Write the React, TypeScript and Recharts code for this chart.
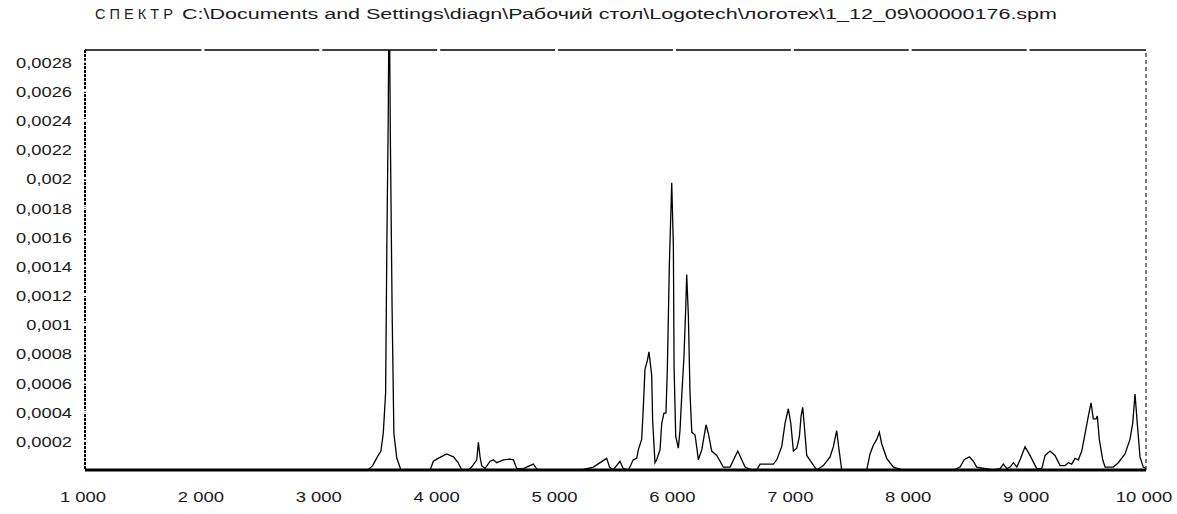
import React from 'react'
import { LineChart, Line, XAxis, YAxis, ReferenceLine } from 'recharts'

const titleWord = 'С П Е К Т Р'
const titlePath =
  'C:\\Documents and Settings\\diagn\\Рабочий стол\\Logotech\\логотех\\1_12_09\\00000176.spm'

// wavenumber points and the amplitude read at each one
const freq = [
  1000, 3400, 3440, 3480, 3510, 3530, 3550, 3560, 3572, 3580, 3590, 3605, 3620, 3645, 3680,
  3927, 3955, 3995, 4068, 4125, 4165, 4196, 4251, 4280, 4323, 4337, 4351, 4365, 4393, 4436,
  4464, 4492, 4548, 4605, 4634, 4662, 4718, 4803, 4830, 4860, 5213, 5312, 5425, 5450, 5480,
  5538, 5565, 5609, 5651, 5680, 5694, 5722, 5736, 5750, 5770, 5784, 5807, 5815, 5835, 5849,
  5878, 5892, 5911, 5928, 5940, 5957, 5977, 5991, 5997, 6011, 6033, 6047, 6062, 6081, 6096,
  6104, 6118, 6132, 6147, 6175, 6203, 6232, 6268, 6288, 6316, 6359, 6415, 6472, 6537, 6599,
  6656, 6698, 6726, 6839, 6868, 6910, 6938, 6966, 6987, 7009, 7038, 7060, 7074, 7088, 7102,
  7122, 7164, 7207, 7263, 7320, 7348, 7376, 7396, 7419, 7631, 7659, 7687, 7716, 7738, 7758,
  7801, 7857, 7941, 8366, 8423, 8457, 8502, 8535, 8564, 8705, 8762, 8790, 8819, 8847, 8875,
  8904, 8932, 8974, 9016, 9073, 9116, 9144, 9186, 9228, 9271, 9313, 9341, 9370, 9398, 9426,
  9455, 9483, 9511, 9534, 9553, 9576, 9587, 9604, 9633, 9653, 9723, 9765, 9822, 9864, 9887,
  9907, 9926, 9949, 9977, 10000,
]

const amp = [
  0, 0, 0.00003, 0.00009, 0.00013, 0.00025, 0.00053, 0.0015, 0.0024, 0.0034, 0.0023, 0.0011, 0.00025, 0.00008, 0,
  0, 0.00006, 0.00008, 0.00011, 0.00009, 0.00005, 0, 0, 0.00002, 0.00007, 0.00019, 0.00009, 0.00003, 0.00001, 0.00006,
  0.00007, 0.00005, 0.00007, 0.000075, 0.00007, 0.00001, 0.00001, 0.00004, 0.00001, 0, 0, 0.00002, 0.00008, 0.00002, 0,
  0.00006, 0.00001, 0, 0.00007, 0.00008, 0.00014, 0.00021, 0.00043, 0.00069, 0.00075, 0.00081, 0.00065, 0.00034, 0.00005, 0.00007,
  0.00014, 0.00032, 0.00039, 0.00039, 0.0007, 0.00141, 0.00197, 0.00153, 0.0007, 0.00023, 0.00015, 0.00027, 0.00051, 0.00078, 0.00112,
  0.00134, 0.00106, 0.00053, 0.00026, 0.00024, 0.00007, 0.00014, 0.00031, 0.00025, 0.00013, 0.0001, 0.00002, 0.00002, 0.00013, 0.00002,
  0, 0, 0.00004, 0.00004, 0.00007, 0.00016, 0.00032, 0.00042, 0.00032, 0.00013, 0.00015, 0.00023, 0.00037, 0.00043, 0.0003,
  0.0001, 0.00005, 0, 0.00003, 0.00009, 0.00016, 0.00027, 0.00014, 0, 0, 0.00011, 0.00017, 0.00021, 0.00026, 0.00018,
  0.00008, 0.00002, 0, 0, 0.00002, 0.00007, 0.00009, 0.00006, 0.00002, 0, 0.00001, 0.00004, 0.00001, 0.00002, 0.00005,
  0.00002, 0.00007, 0.00016, 0.0001, 0.00001, 0.00001, 0.0001, 0.00013, 0.0001, 0.00003, 0.00003, 0.00005, 0.00004, 0.00008, 0.00007,
  0.00013, 0.00025, 0.00037, 0.00046, 0.00035, 0.00035, 0.00037, 0.00021, 0.00007, 0.00002, 0.00002, 0.00005, 0.00011, 0.00021, 0.00032,
  0.00052, 0.00032, 0.00009, 0.00002, 0.00001,
]

const xTicks = [1000, 2000, 3000, 4000, 5000, 6000, 7000, 8000, 9000, 10000]
const yTicks = [
  0.0002, 0.0004, 0.0006, 0.0008, 0.001, 0.0012, 0.0014,
  0.0016, 0.0018, 0.002, 0.0022, 0.0024, 0.0026, 0.0028,
]
const topGaps = [2000, 3000, 4000, 5000, 6000, 7000, 8000, 9000]

const data = freq.map((f, i) => ({ f, v: amp[i] }))

const FONT = '"Liberation Sans", Arial, sans-serif'
const INK = '#1a1a1a'

// the original font is a wide bitmap one, so labels get stretched to its width
function wideWidth(s: string) {
  let w = 0
  for (const ch of s) w += ch === ' ' ? 5 : ch === ',' ? 4.5 : 10.3
  return w
}

const fmtX = (v: number) => String(v).replace(/\B(?=(\d{3})+(?!\d))/g, ' ')
const fmtY = (v: number) => String(v).replace('.', ',')

function XTick({ x, y, payload }: any) {
  const label = fmtX(payload.value)
  return (
    <text x={x - 2} y={y + 32} textAnchor="middle" fontSize={14} fontFamily={FONT} fill={INK}
      textLength={wideWidth(label)} lengthAdjust="spacingAndGlyphs">
      {label}
    </text>
  )
}

function YTick({ x, y, payload }: any) {
  const label = fmtY(payload.value)
  return (
    <g>
      <rect x={x - 1.5} y={y - 1} width={3} height={2} fill="#fff" />
      <text x={x - 13} y={y + 6} textAnchor="end" fontSize={14} fontFamily={FONT} fill={INK}
        textLength={wideWidth(label)} lengthAdjust="spacingAndGlyphs">
        {label}
      </text>
    </g>
  )
}

function GapTick({ x, y }: any) {
  return <rect x={x - 1.5} y={y - 1.5} width={3} height={3} fill="#fff" />
}

export default function App() {
  return (
    <div style={{ position: 'absolute', left: 0, top: 0, width: 1177, height: 514, background: '#fff' }}>
      <svg width={1177} height={30} style={{ position: 'absolute', left: 0, top: 0 }}>
        <text x={95} y={19} fontSize={14} fontFamily={FONT} fill={INK}
          textLength={78} lengthAdjust="spacingAndGlyphs">
          {titleWord}
        </text>
        <text x={182} y={19} fontSize={14} fontFamily={FONT} fill={INK}
          textLength={875} lengthAdjust="spacingAndGlyphs">
          {titlePath}
        </text>
      </svg>
      <LineChart width={1177} height={514} data={data} margin={{ top: 49, right: 31, bottom: 0, left: 0 }}>
        <XAxis
          dataKey="f"
          type="number"
          domain={[1000, 10000]}
          allowDataOverflow
          ticks={xTicks}
          interval={0}
          height={44}
          tickSize={0}
          tickMargin={0}
          tickLine={false}
          axisLine={{ stroke: '#000', strokeWidth: 3 }}
          tick={<XTick />}
        />
        <XAxis
          xAxisId="top"
          orientation="top"
          dataKey="f"
          type="number"
          domain={[1000, 10000]}
          allowDataOverflow
          ticks={topGaps}
          interval={0}
          height={1}
          tickSize={0}
          tickMargin={0}
          tickLine={false}
          axisLine={{ stroke: '#000', strokeWidth: 1.5 }}
          tick={<GapTick />}
        />
        <YAxis
          type="number"
          domain={[0, 0.00288]}
          allowDataOverflow
          ticks={yTicks}
          interval={0}
          width={85}
          tickSize={0}
          tickMargin={0}
          tickLine={false}
          axisLine={{ stroke: '#000', strokeWidth: 2, strokeDasharray: '3 1' }}
          tick={<YTick />}
        />
        <ReferenceLine x={10000} stroke="#000" strokeWidth={1} strokeDasharray="4 3" />
        <Line
          type="linear"
          dataKey="v"
          stroke="#000"
          strokeWidth={1.3}
          dot={false}
          activeDot={false}
          isAnimationActive={false}
        />
      </LineChart>
    </div>
  )
}
